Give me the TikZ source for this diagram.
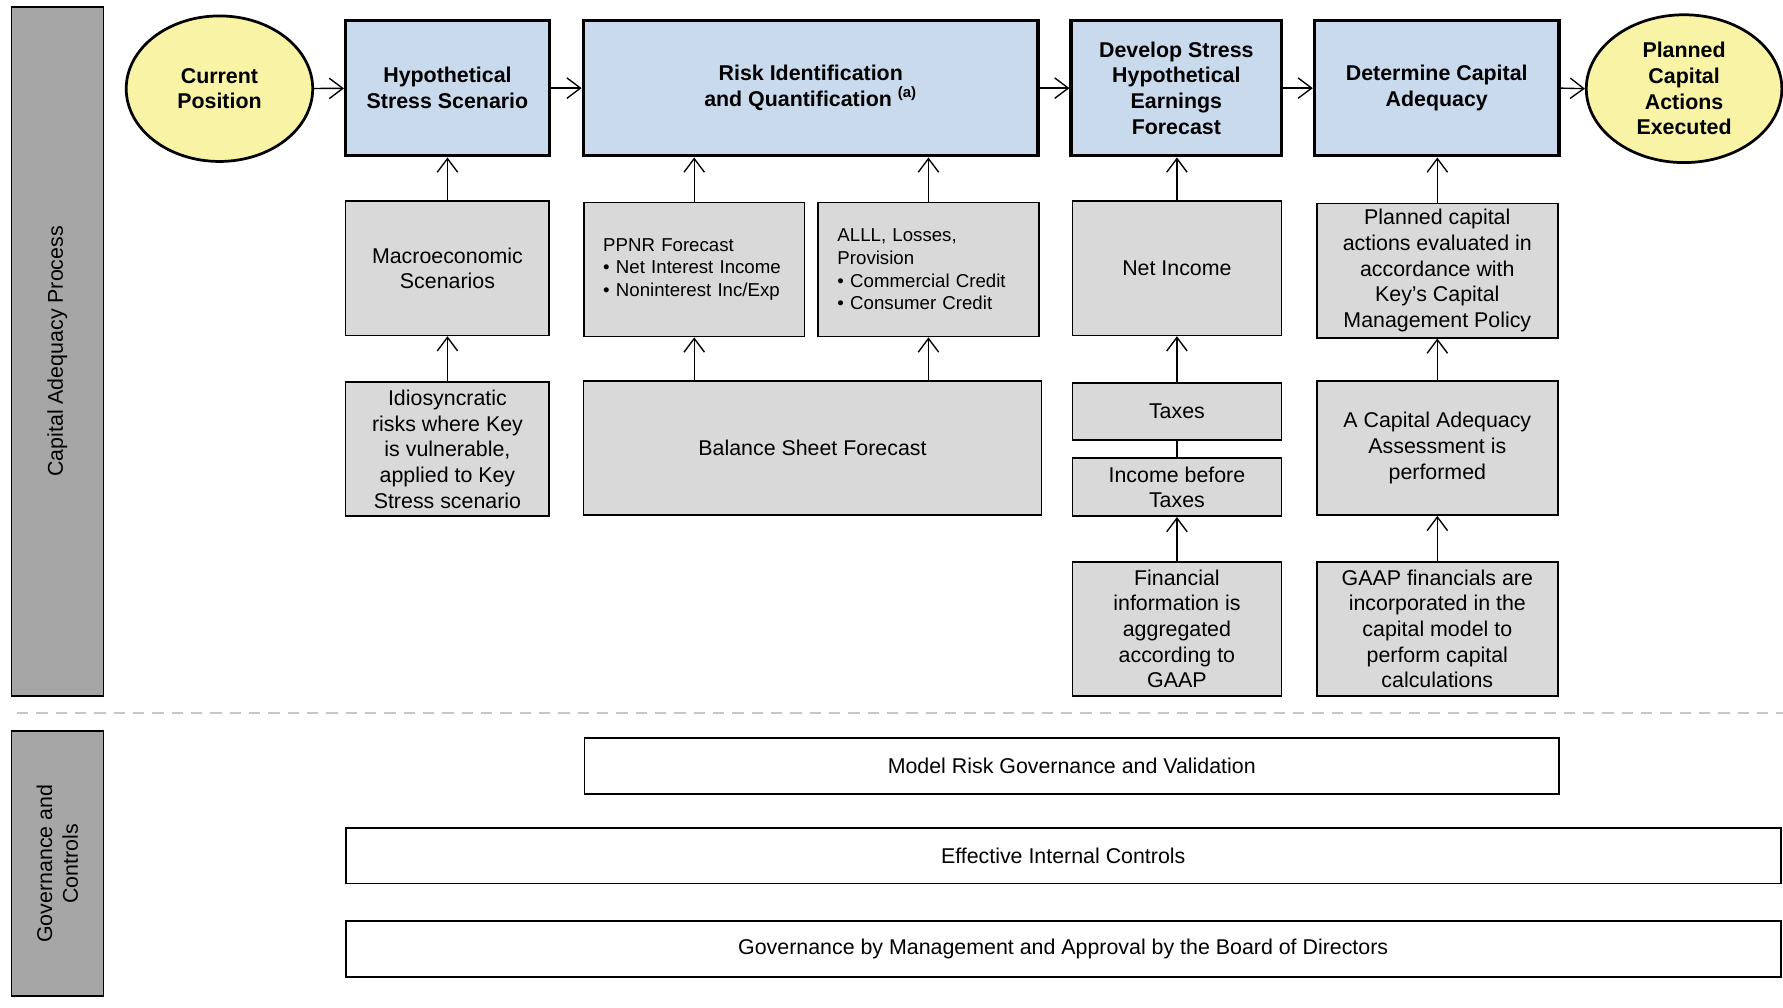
\documentclass[tikz,border=0pt]{standalone}
\usepackage{fontspec}
\setmainfont{Liberation Sans}
\usetikzlibrary{shapes.geometric,arrows.meta}
\definecolor{hdrblue}{HTML}{C9DAED}
\definecolor{ovalyellow}{HTML}{F8F3A5}
\definecolor{itemgray}{HTML}{D9D9D9}
\definecolor{sidegray}{HTML}{A6A6A6}
\begin{document}
\begin{tikzpicture}[
    x=0.5pt, y=-0.5pt,
    every node/.style={font=\fontsize{9.4}{11.3}\selectfont, align=center, inner sep=0pt},
    hdrbox/.style={draw, line width=1.5pt, fill=hdrblue, minimum height=59.5pt,
      font=\fontsize{9.4}{11.3}\selectfont\bfseries},
    ovalbox/.style={ellipse, draw, line width=1.2pt, fill=ovalyellow,
      font=\fontsize{9.4}{11.3}\selectfont\bfseries},
    itembox/.style={draw, line width=0.7pt, fill=itemgray, minimum height=59pt},
    listbox/.style={itembox, font=\fontsize{8.2}{10}\selectfont, align=left,
      text width=80pt, inner xsep=8.5pt, minimum width=96.5pt},
    govbox/.style={draw, line width=0.8pt, fill=white, minimum height=24.5pt},
    sidebar/.style={draw, line width=0.7pt, fill=sidegray, rotate=90, minimum height=40.5pt},
    flow/.style={line width=0.6pt, -{Straight Barb[length=6pt,width=9pt]}}]
  \useasboundingbox (0,0) rectangle (1568,886);

  \node[sidebar, minimum width=303pt] (procbar) at (50.5,309) {Capital Adequacy Process};
  \node[sidebar, minimum width=116.5pt] (govbar) at (50.5,759.5) {Governance and\\Controls};

  \node[ovalbox, minimum width=82pt, minimum height=64pt] (cur) at (193,78) {Current\\Position};
  \node[hdrbox, minimum width=89.5pt] (hyp) at (393.5,77.5) {Hypothetical\\Stress Scenario};
  \node[hdrbox, minimum width=200pt] (risk) at (713,77.5) {Risk Identification\\and Quantification \textsuperscript{(a)}};
  \node[hdrbox, minimum width=92.5pt] (dev) at (1034.5,77.5) {Develop Stress\\Hypothetical\\Earnings\\Forecast};
  \node[hdrbox, minimum width=107.5pt] (det) at (1263.5,77.5) {Determine Capital\\Adequacy};
  \node[ovalbox, minimum width=86pt, minimum height=65pt] (plan) at (1481,78) {Planned\\Capital\\Actions\\Executed};

  \node[itembox, minimum width=89.5pt] (macro) at (393.5,236) {Macroeconomic\\Scenarios};
  \node[listbox] (ppnr) at (610.5,237) {PPNR Forecast\\\textbullet\ Net Interest Income\\\textbullet\ Noninterest Inc/Exp};
  \node[listbox] (alll) at (816.5,237) {ALLL, Losses,\\Provision\\\textbullet\ Commercial Credit\\\textbullet\ Consumer Credit};
  \node[itembox, minimum width=92pt] (net) at (1035,236) {Net Income};
  \node[itembox, minimum width=106pt] (pol) at (1264,238) {Planned capital\\actions evaluated in\\accordance with\\Key’s Capital\\Management Policy};

  \node[itembox, minimum width=89.5pt] (idio) at (393.5,395) {Idiosyncratic\\risks where Key\\is vulnerable,\\applied to Key\\Stress scenario};
  \node[itembox, minimum width=201.5pt] (bal) at (714.5,394) {Balance Sheet Forecast};
  \node[itembox, minimum width=92pt, minimum height=25pt] (tax) at (1035,362) {Taxes};
  \node[itembox, minimum width=92pt, minimum height=25.5pt] (ibt) at (1035,428.5) {Income before\\Taxes};
  \node[itembox, minimum width=106pt] (ass) at (1264,394) {A Capital Adequacy\\Assessment is\\performed};

  \node[itembox, minimum width=92pt] (fin) at (1035,553) {Financial\\information is\\aggregated\\according to\\GAAP};
  \node[itembox, minimum width=106pt] (gaap) at (1264,553) {GAAP financials are\\incorporated in the\\capital model to\\perform capital\\calculations};

  \coordinate (dashL) at (15,627);
  \coordinate (dashR) at (1568,627);
  \draw[gray!45, line width=1.2pt, dash pattern=on 5pt off 3.5pt] (dashL) -- (dashR);

  \node[govbox, minimum width=428.5pt] (mrg) at (942.5,673.5) {Model Risk Governance and Validation};
  \node[govbox, minimum width=631pt] (eic) at (935,752.5) {Effective Internal Controls};
  \node[govbox, minimum width=631pt] (gov) at (935,834.5) {Governance by Management and Approval by the Board of Directors};

  \draw[flow] (cur) -- (hyp);
  \draw[flow] (hyp) -- (risk);
  \draw[flow] (risk) -- (dev);
  \draw[flow] (dev) -- (det);
  \draw[flow] (det.east) -- (plan.west);

  \draw[flow] (macro) -- (hyp);
  \draw[flow] (idio) -- (macro);
  \draw[flow] (ppnr.north) -- (ppnr |- risk.south);
  \draw[flow] (alll.north) -- (alll |- risk.south);
  \draw[flow] (ppnr |- bal.north) -- (ppnr.south);
  \draw[flow] (alll |- bal.north) -- (alll.south);
  \draw[flow] (net.north) -- (net |- dev.south);
  \draw[flow] (tax) -- (net);
  \draw[line width=0.6pt] (ibt) -- (tax);
  \draw[flow] (fin) -- (ibt);
  \draw[flow] (pol) -- (pol |- det.south);
  \draw[flow] (ass) -- (pol);
  \draw[flow] (gaap) -- (ass);
\end{tikzpicture}
\end{document}
